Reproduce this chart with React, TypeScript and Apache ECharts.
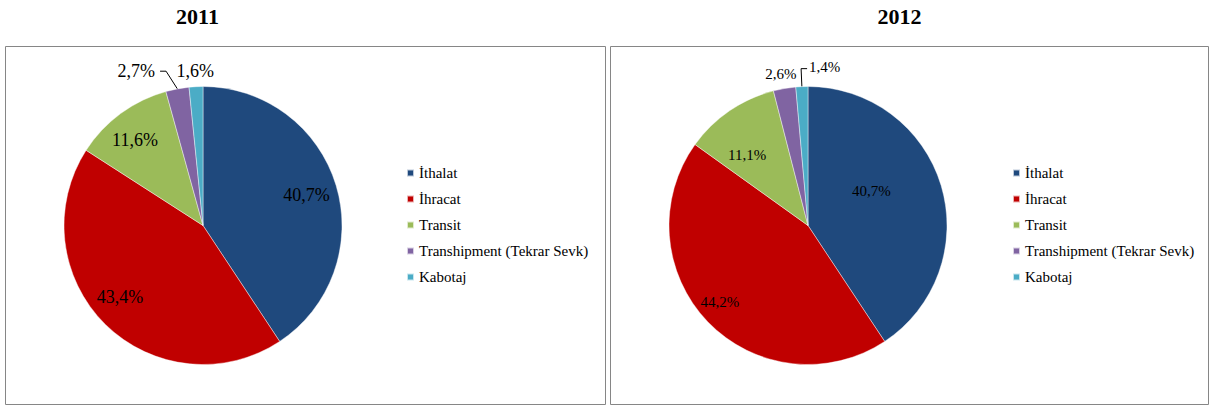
import React, { useEffect, useRef } from "react";
import * as echarts from "echarts";

const categories = ["İthalat", "İhracat", "Transit", "Transhipment (Tekrar Sevk)", "Kabotaj"];
const years = ["2011", "2012"];
const values2011 = [40.7, 43.4, 11.6, 2.7, 1.6];
const values2012 = [40.7, 44.2, 11.1, 2.6, 1.4];
const colors = ["#1F497D", "#C00000", "#9BBB59", "#8064A2", "#4BACC6"];

// label placement per slice (style only)
const labelPos2011 = ["inside", "inside", "inside", "outside", "outside"];
const labelLine2011 = [false, false, false, true, false];
const labelShift2011 = [[34, -10], [-32, 20], [-25, -27], [-8, 0], [30, 2]];
// leader-line tweak: "slant" bends further left, "flip" turns the line to the right
const lineTweak2011 = ["", "", "", "slant", ""];
const labelPos2012 = ["inside", "inside", "inside", "outside", "outside"];
const labelLine2012 = [false, false, false, false, true];
const labelShift2012 = [[-6, -14], [-36, 26], [-20, -11], [26, 3], [0, -2]];
const lineTweak2012 = ["", "", "", "", "flip"];

const FONT = "Liberation Serif";

const fmt = (v: number) => v.toFixed(1).replace(".", ",") + "%";

function buildSeries(
  name: string,
  values: number[],
  pos: string[],
  lines: boolean[],
  shifts: number[][],
  tweaks: string[],
  center: number[],
  fontSize: number
) {
  return {
    type: "pie",
    name,
    center,
    radius: 139,
    startAngle: 90,
    clockwise: true,
    avoidLabelOverlap: false,
    silent: true,
    itemStyle: { borderWidth: 0.6, borderColor: "rgba(255,255,255,0.7)" },
    label: {
      fontFamily: FONT,
      fontSize,
      color: "#000",
      formatter: (p: any) => fmt(p.value),
    },
    labelLine: {
      length: 18,
      length2: 6,
      smooth: false,
      lineStyle: { color: "#000", width: 1 },
    },
    labelLayout: (p: any) => {
      const s = shifts[p.dataIndex];
      const t = tweaks[p.dataIndex];
      const pts = p.labelLinePoints;
      if (t === "slant" && pts) {
        return {
          dx: s[0],
          dy: s[1],
          labelLinePoints: [pts[0], [pts[1][0] + s[0], pts[1][1]], [pts[2][0] + s[0], pts[2][1]]],
        };
      }
      if (t === "flip" && pts) {
        const end = [pts[1][0] + (pts[1][0] - pts[2][0]), pts[1][1]];
        return {
          dx: end[0] + 2 - p.labelRect.x,
          dy: s[1],
          labelLinePoints: [pts[0], pts[1], end],
        };
      }
      return { dx: s[0], dy: s[1] };
    },
    data: categories.map((c, i) => ({
      name: c,
      value: values[i],
      itemStyle: { color: colors[i] },
      label: { position: pos[i] },
      labelLine: { show: lines[i] },
    })),
  };
}

export default function App() {
  const ref = useRef<HTMLDivElement>(null);
  useEffect(() => {
    if (!ref.current) return;
    const chart = echarts.init(ref.current, undefined, { renderer: "svg" });
    const legendBase = {
      data: categories,
      orient: "vertical",
      top: 165,
      itemWidth: 7,
      itemHeight: 7,
      itemGap: 10,
      icon: "rect",
      padding: 0,
      selectedMode: false,
      textStyle: { fontFamily: FONT, fontSize: 15, color: "#000", lineHeight: 16 },
    };
    chart.setOption({
      animation: false,
      backgroundColor: "#fff",
      textStyle: { fontFamily: FONT },
      legend: [
        { ...legendBase, left: 406 },
        { ...legendBase, left: 1012 },
      ],
      graphic: [
        {
          type: "rect",
          shape: { x: 5.5, y: 46.5, width: 600, height: 358 },
          style: { fill: "none", stroke: "#868686", lineWidth: 1 },
          silent: true,
        },
        {
          type: "rect",
          shape: { x: 610.5, y: 46.5, width: 598, height: 358 },
          style: { fill: "none", stroke: "#868686", lineWidth: 1 },
          silent: true,
        },
        {
          type: "text",
          x: 197.5,
          y: 16,
          style: {
            text: years[0],
            font: `bold 22px ${FONT}`,
            fill: "#000",
            textAlign: "center",
            textVerticalAlign: "middle",
          },
        },
        {
          type: "text",
          x: 899.5,
          y: 16,
          style: {
            text: years[1],
            font: `bold 22px ${FONT}`,
            fill: "#000",
            textAlign: "center",
            textVerticalAlign: "middle",
          },
        },
      ],
      series: [
        buildSeries(years[0], values2011, labelPos2011, labelLine2011, labelShift2011, lineTweak2011, [203, 225.5], 18),
        buildSeries(years[1], values2012, labelPos2012, labelLine2012, labelShift2012, lineTweak2012, [808, 225.5], 15),
      ],
    });
    return () => chart.dispose();
  }, []);
  return (
    <div
      ref={ref}
      style={{ position: "absolute", left: 0, top: 0, width: 1211, height: 408, background: "#fff" }}
    />
  );
}
